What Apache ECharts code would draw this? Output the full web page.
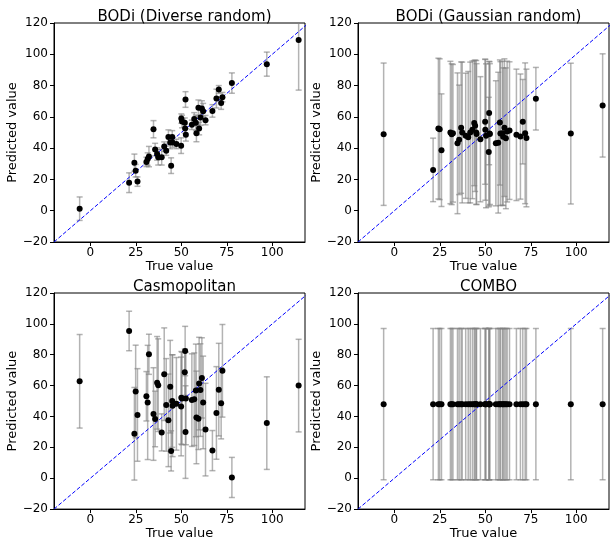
<!DOCTYPE html>
<html>
<head>
<meta charset="utf-8">
<script src="https://cdn.jsdelivr.net/npm/echarts@6/dist/echarts.min.js"></script>
<style>
  html, body { margin: 0; padding: 0; background: #fff; }
  #chart { width: 610px; height: 541px; }
</style>
</head>
<body>
<div id="chart"></div>
<script>
// true values (same for every panel)
const trueValues = [-5.9, 21.3, 24.2, 24.9, 25.9, 30.8, 31.5, 32.2, 34.7, 35.6,
  36.7, 37.3, 39.2, 40.6, 41.7, 42.9, 43.9, 44.4, 45.0, 45.2,
  47.3, 49.9, 50.0, 50.4, 51.9, 52.1, 52.3, 52.5, 55.8, 57.1,
  58.0, 58.3, 59.4, 59.8, 60.5, 61.3, 62.0, 63.3, 67.1, 69.3,
  70.6, 71.9, 72.6, 77.8, 97.0, 114.5];

// BODi (Diverse random)
const diversePred = [1.3, 17.9, 30.7, 25.6, 18.6, 31.2, 33.0, 34.6, 52.1, 39.1,
  36.3, 34.2, 34.2, 41.0, 38.4, 47.2, 43.6, 28.8, 47.2, 43.6,
  42.7, 41.6, 58.9, 57.0, 56.3, 52.5, 71.1, 48.5, 54.9, 58.7,
  56.2, 49.6, 65.8, 52.5, 59.6, 65.3, 63.6, 57.9, 63.8, 71.7,
  77.5, 68.8, 72.6, 81.6, 93.7, 109.1];
const diverseErr = [7.5, 6.3, 5.5, 4, 3, 3, 4, 6.5, 5.5, 4,
  4, 5, 5, 3, 3, 4.5, 4, 5, 4, 3,
  3, 5, 3, 4, 3, 3, 5, 4, 3, 4,
  5, 5.5, 5, 4, 5, 5, 5, 3, 4, 6,
  2.5, 4, 3, 6.5, 7.7, 32];

// BODi (Gaussian random)
const gaussianPred = [48.9, 26.1, 52.5, 52.1, 38.7, 50.0, 48.9, 49.5, 43.1, 45.3,
  53.1, 50.0, 47.9, 47.0, 50.0, 51.7, 56.0, 54.3, 50.0, 49.0,
  45.7, 56.9, 51.7, 47.9, 37.5, 62.4, 49.3, 49.0, 43.1, 43.5,
  56.4, 49.3, 49.5, 47.3, 53.1, 46.3, 50.6, 51.2, 48.5, 47.4,
  56.9, 49.5, 46.5, 71.6, 49.3, 67.3];
const gaussianErr = [45.5, 20.3, 45, 45, 36, 45.5, 45, 44, 45, 35,
  42, 45, 40, 42, 45, 44, 40, 42, 46, 45,
  40, 40, 45, 46, 35, 33, 46, 45, 40, 45,
  40, 46, 46, 44, 44, 45, 45, 44, 42, 40,
  27, 45, 44, 20, 45, 33];

// Casmopolitan
const casmoPred = [62.8, 95.4, 28.8, 56.2, 41.0, 53.1, 49.1, 80.3, 41.6, 38.4,
  61.8, 60.3, 29.7, 67.4, 47.5, 37.5, 59.3, 17.7, 50.0, 47.0,
  48.2, 46.5, 52.1, 51.7, 68.7, 82.4, 29.9, 51.7, 50.6, 51.2,
  56.9, 39.4, 38.6, 61.3, 57.1, 65.0, 49.1, 31.5, 17.9, 42.3,
  57.4, 48.5, 69.6, 0.5, 35.7, 60.0];
const casmoErr = [30.3, 12.8, 30, 30, 30, 16, 37, 13, 30, 18,
  30, 30, 12, 30, 30, 30, 30, 13, 30, 33,
  30, 32, 30, 30, 15, 16, 30, 30, 30, 30,
  30, 30, 20, 30, 30, 26, 30, 30, 13, 30,
  30, 23, 30, 13, 30, 30];

// COMBO
const comboPred = [48, 48, 48, 48, 48, 48, 48, 48, 48, 48,
  48, 48, 48, 48, 48, 48, 48, 48, 48, 48,
  48, 48, 48, 48, 48, 48, 48, 48, 48, 48,
  48, 48, 48, 48, 48, 48, 48, 48, 48, 48,
  48, 48, 48, 48, 48, 48];
const comboErr = [49, 49, 49, 49, 49, 49, 49, 49, 49, 49,
  49, 49, 49, 49, 49, 49, 49, 49, 49, 49,
  49, 49, 49, 49, 49, 49, 49, 49, 49, 49,
  49, 49, 49, 49, 49, 49, 49, 49, 49, 49,
  49, 49, 49, 49, 49, 49];

const panelTitles = ['BODi (Diverse random)', 'BODi (Gaussian random)', 'Casmopolitan', 'COMBO'];
const xTicks = [0, 25, 50, 75, 100];
const identityLine = [-20, 120];

const panels = [
  { pred: diversePred, err: diverseErr },
  { pred: gaussianPred, err: gaussianErr },
  { pred: casmoPred, err: casmoErr },
  { pred: comboPred, err: comboErr },
];

// grid boxes (px)
const boxes = [
  { left: 54, top: 23 },
  { left: 358, top: 23 },
  { left: 54, top: 293 },
  { left: 358, top: 293 },
];
const boxW = 251;
const boxH = 219;
const font = 'DejaVu Sans';

const chart = echarts.init(document.getElementById('chart'), null, { renderer: 'canvas' });

function errorBarItem(params, api) {
  const x = api.value(0);
  const y = api.value(1);
  const e = api.value(2);
  const top = api.coord([x, y + e]);
  const bot = api.coord([x, y - e]);
  const cs = params.coordSys;
  const yTop = Math.max(top[1], cs.y);
  const yBot = Math.min(bot[1], cs.y + cs.height);
  const style = { stroke: 'rgba(128,128,128,0.6)', lineWidth: 1.5 };
  const cap = 3;
  const children = [
    { type: 'line', shape: { x1: top[0], y1: yTop, x2: top[0], y2: yBot }, style },
  ];
  if (top[1] >= cs.y) {
    children.push({ type: 'line', shape: { x1: top[0] - cap, y1: top[1], x2: top[0] + cap, y2: top[1] }, style });
  }
  if (bot[1] <= cs.y + cs.height) {
    children.push({ type: 'line', shape: { x1: bot[0] - cap, y1: bot[1], x2: bot[0] + cap, y2: bot[1] }, style });
  }
  return { type: 'group', children };
}

const grid = [];
const xAxis = [];
const yAxis = [];
const title = [];
const series = [];

panels.forEach((p, i) => {
  const b = boxes[i];
  grid.push({
    left: b.left, top: b.top, width: boxW, height: boxH,
    show: true, borderColor: '#000', borderWidth: 1, backgroundColor: '#fff',
  });
  title.push({
    text: panelTitles[i],
    left: b.left + boxW / 2,
    top: b.top - 18,
    textAlign: 'center',
    textStyle: { fontFamily: font, fontSize: 15, fontWeight: 'normal', color: '#000' },
  });
  xAxis.push({
    type: 'value', gridIndex: i, min: -20, max: 118,
    name: 'True value', nameLocation: 'middle', nameGap: 17,
    nameTextStyle: { fontFamily: font, fontSize: 13, color: '#000', verticalAlign: 'top' },
    axisLine: { show: true, onZero: false, lineStyle: { color: '#000', width: 1 } },
    axisTick: { show: true, length: 4, customValues: xTicks, lineStyle: { color: '#000' } },
    axisLabel: { customValues: xTicks, margin: 5, fontFamily: font, fontSize: 12, color: '#000' },
    splitLine: { show: false },
  });
  yAxis.push({
    type: 'value', gridIndex: i, min: -20, max: 120, interval: 20,
    name: 'Predicted value', nameLocation: 'middle', nameGap: 31, nameRotate: 90,
    nameTextStyle: { fontFamily: font, fontSize: 13, color: '#000', verticalAlign: 'bottom' },
    axisLine: { show: true, onZero: false, lineStyle: { color: '#000', width: 1 } },
    axisTick: { show: true, length: 4, lineStyle: { color: '#000' } },
    axisLabel: {
      margin: 6, fontFamily: font, fontSize: 12, color: '#000',
      formatter: (v) => String(v).replace('-', '\u2212'),
    },
    splitLine: { show: false },
  });

  const pts = trueValues.map((x, k) => [x, p.pred[k], p.err[k]]);

  series.push({
    type: 'custom', xAxisIndex: i, yAxisIndex: i,
    renderItem: errorBarItem, data: pts, z: 2, silent: true,
  });
  series.push({
    type: 'line', xAxisIndex: i, yAxisIndex: i,
    data: [[identityLine[0], identityLine[0]], [identityLine[1], identityLine[1]]],
    showSymbol: false, clip: true, z: 3, silent: true,
    lineStyle: { color: '#0000ff', width: 1, type: [4, 2] },
  });
  series.push({
    type: 'scatter', xAxisIndex: i, yAxisIndex: i,
    data: pts.map((d) => [d[0], d[1]]),
    symbolSize: 6, z: 4, silent: true,
    itemStyle: { color: '#000', opacity: 1 },
  });
});

chart.setOption({
  animation: false,
  backgroundColor: '#fff',
  title, grid, xAxis, yAxis, series,
});
</script>
</body>
</html>
